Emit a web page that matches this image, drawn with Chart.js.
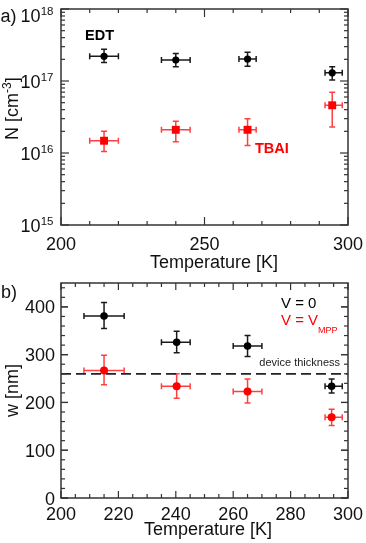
<!DOCTYPE html>
<html>
<head>
<meta charset="utf-8">
<script src="https://cdn.jsdelivr.net/npm/chart.js@4.4.1/dist/chart.umd.min.js"></script>
<style>
body { margin:0; background:#fff; }
#wrap { position:relative; width:366px; height:543px; overflow:hidden; }
canvas { position:absolute; left:0; }
#cA { top:0; }
#cB { top:270px; }
</style>
</head>
<body>
<div id="wrap">
<canvas id="cA" width="366" height="290"></canvas>
<canvas id="cB" width="366" height="273"></canvas>
</div>
<script>
// panel a) carrier density vs temperature
var tempA   = [215, 240, 265, 294.5];
var tempALo = [210, 235, 262, 292];
var tempAHi = [220, 245, 268, 298];
var edtN    = [2.2e17, 1.95e17, 2.02e17, 1.3e17];
var edtNLo  = [1.8e17, 1.58e17, 1.6e17, 1.03e17];
var edtNHi  = [2.75e17, 2.4e17, 2.5e17, 1.58e17];
var tbaiN   = [1.48e16, 2.1e16, 2.1e16, 4.6e16];
var tbaiNLo = [1.05e16, 1.43e16, 1.27e16, 2.3e16];
var tbaiNHi = [2.0e16, 2.75e16, 3.0e16, 7.0e16];
var xTicksA = [200, 250, 300];
var yExpA   = [15, 16, 17, 18];

// panel b) depletion width vs temperature
var tempB   = [215, 240.3, 265, 294.3];
var tempBLo = [208, 235, 260, 292];
var tempBHi = [222, 245, 270, 298];
var w0      = [381, 326, 318, 234];
var w0Lo    = [355, 304, 296, 220];
var w0Hi    = [409, 349, 340, 249];
var wMpp    = [267, 234, 223, 169];
var wMppLo  = [237, 209, 199, 152];
var wMppHi  = [299, 260, 249, 186];
var thickness = 260;
var xTicksB = [200, 220, 240, 260, 280, 300];
var yTicksB = [0, 100, 200, 300, 400];

var FONT = '"Liberation Sans", Arial, sans-serif';
function font(size, bold) { return (bold ? 'bold ' : '') + size + 'px ' + FONT; }

function pts(xs, ys) {
  return xs.map(function(x, i) { return {x: x, y: ys[i]}; });
}

function line(ctx, x0, y0, x1, y1) {
  ctx.beginPath(); ctx.moveTo(x0, y0); ctx.lineTo(x1, y1); ctx.stroke();
}

var errorBars = {
  id: 'errorBars',
  beforeDatasetsDraw: function(chart) {
    var ctx = chart.ctx, xs = chart.scales.x, ys = chart.scales.y;
    chart.data.datasets.forEach(function(ds) {
      if (!ds.tLo) return;
      ctx.save();
      ctx.strokeStyle = ds.errColor;
      ctx.lineWidth = 1.5;
      ds.data.forEach(function(p, i) {
        var x = xs.getPixelForValue(p.x), y = ys.getPixelForValue(p.y);
        var x0 = xs.getPixelForValue(ds.tLo[i]), x1 = xs.getPixelForValue(ds.tHi[i]);
        var y0 = ys.getPixelForValue(ds.yLo[i]), y1 = ys.getPixelForValue(ds.yHi[i]);
        ctx.beginPath();
        ctx.moveTo(x0, y); ctx.lineTo(x1, y);
        ctx.moveTo(x0, y - 3); ctx.lineTo(x0, y + 3);
        ctx.moveTo(x1, y - 3); ctx.lineTo(x1, y + 3);
        ctx.moveTo(x, y0); ctx.lineTo(x, y1);
        ctx.moveTo(x - 3, y0); ctx.lineTo(x + 3, y0);
        ctx.moveTo(x - 3, y1); ctx.lineTo(x + 3, y1);
        ctx.stroke();
      });
      ctx.restore();
    });
  }
};

function drawFrame(ctx, a) {
  ctx.lineWidth = 1.5;
  ctx.strokeStyle = '#333';
  ctx.strokeRect(a.left, a.top, a.right - a.left, a.bottom - a.top);
}

var axesA = {
  id: 'axesA',
  afterDraw: function(chart) {
    var ctx = chart.ctx, a = chart.chartArea, xs = chart.scales.x, ys = chart.scales.y;
    ctx.save();
    ctx.strokeStyle = '#333';
    ctx.lineWidth = 1.2;
    for (var t = 200; t <= 300; t += 10) {
      var len = (t % 50 === 0) ? 8 : 4;
      var px = xs.getPixelForValue(t);
      line(ctx, px, a.bottom, px, a.bottom - len);
      line(ctx, px, a.top, px, a.top + len);
    }
    yExpA.forEach(function(e) {
      var py = ys.getPixelForValue(Math.pow(10, e));
      line(ctx, a.left, py, a.left + 8, py);
      line(ctx, a.right, py, a.right - 8, py);
      if (e === 18) return;
      for (var m = 2; m <= 9; m++) {
        var pm = ys.getPixelForValue(m * Math.pow(10, e));
        line(ctx, a.left, pm, a.left + 4, pm);
        line(ctx, a.right, pm, a.right - 4, pm);
      }
    });
    drawFrame(ctx, a);

    ctx.fillStyle = '#111';
    ctx.textBaseline = 'alphabetic';
    ctx.font = font(18);
    ctx.textAlign = 'left';
    ctx.fillText('a)', 0.5, 22);

    // y tick labels 10^n
    yExpA.forEach(function(e) {
      var py = ys.getPixelForValue(Math.pow(10, e));
      var base = Math.max(py + 7, a.top + 13);
      ctx.textAlign = 'right';
      ctx.font = font(11.5);
      ctx.fillText(String(e), 53.5, base - 7);
      var sw = ctx.measureText(String(e)).width;
      ctx.font = font(18);
      ctx.fillText('10', 53.5 - sw - 0.3, base);
    });

    ctx.textAlign = 'center';
    ctx.font = font(18);
    xTicksA.forEach(function(t) {
      ctx.fillText(String(t), xs.getPixelForValue(t), 250);
    });
    ctx.fillText('Temperature [K]', 214, 268);

    // y title N [cm-3]
    ctx.save();
    ctx.translate(18, 140);
    ctx.rotate(-Math.PI / 2);
    ctx.textAlign = 'left';
    ctx.font = font(18);
    ctx.fillText('N [cm', 0, 0);
    var w1 = ctx.measureText('N [cm').width;
    ctx.font = font(12);
    ctx.fillText('-3', w1, -7);
    var w2 = ctx.measureText('-3').width;
    ctx.font = font(18);
    ctx.fillText(']', w1 + w2, 0);
    ctx.restore();

    ctx.textAlign = 'left';
    ctx.font = font(14.5, true);
    ctx.fillStyle = '#000';
    ctx.fillText('EDT', 85, 40);
    ctx.fillStyle = '#ff0000';
    ctx.fillText('TBAI', 255, 153);
    ctx.restore();
  }
};

var axesB = {
  id: 'axesB',
  afterDraw: function(chart) {
    var ctx = chart.ctx, a = chart.chartArea, xs = chart.scales.x, ys = chart.scales.y;
    ctx.save();
    ctx.strokeStyle = '#333';
    ctx.lineWidth = 1.2;
    for (var t = 200; t <= 300; t += 5) {
      var len = (t % 20 === 0) ? 7 : 4;
      var px = xs.getPixelForValue(t);
      line(ctx, px, a.bottom, px, a.bottom - len);
      line(ctx, px, a.top, px, a.top + len);
    }
    for (var v = 0; v <= 450; v += 20) {
      var l2 = (v % 100 === 0) ? 7 : 4;
      var py = ys.getPixelForValue(v);
      line(ctx, a.left, py, a.left + l2, py);
      line(ctx, a.right, py, a.right - l2, py);
    }
    yTicksB.forEach(function(v) {
      var py = ys.getPixelForValue(v);
      line(ctx, a.left, py, a.left + 7, py);
      line(ctx, a.right, py, a.right - 7, py);
    });
    drawFrame(ctx, a);

    ctx.fillStyle = '#111';
    ctx.textBaseline = 'alphabetic';
    ctx.font = font(18);
    ctx.textAlign = 'left';
    ctx.fillText('b)', 1, 28);

    ctx.textAlign = 'right';
    yTicksB.forEach(function(v) {
      ctx.fillText(String(v), 55, ys.getPixelForValue(v) + 6.5);
    });
    ctx.textAlign = 'center';
    xTicksB.forEach(function(t) {
      ctx.fillText(String(t), xs.getPixelForValue(t), 250);
    });
    ctx.fillText('Temperature [K]', 208, 265);

    ctx.save();
    ctx.translate(18, (a.top + a.bottom) / 2);
    ctx.rotate(-Math.PI / 2);
    ctx.textAlign = 'center';
    ctx.fillText('w [nm]', 0, 0);
    ctx.restore();

    ctx.textAlign = 'left';
    ctx.font = font(15);
    ctx.fillStyle = '#000';
    ctx.fillText('V = 0', 281, 38);
    ctx.fillStyle = '#ff0000';
    ctx.fillText('V = V', 281, 55);
    var wv = ctx.measureText('V = V').width;
    ctx.font = font(9);
    ctx.fillText('MPP', 281 + wv, 63);

    ctx.fillStyle = '#222';
    ctx.font = font(11);
    ctx.textAlign = 'right';
    ctx.fillText('device thickness', 340, 96);
    ctx.restore();
  }
};

new Chart(document.getElementById('cA'), {
  type: 'scatter',
  data: {
    datasets: [{
      label: 'TBAI',
      data: pts(tempA, tbaiN),
      tLo: tempALo, tHi: tempAHi, yLo: tbaiNLo, yHi: tbaiNHi,
      errColor: 'rgba(255,30,30,0.85)',
      pointStyle: 'rect', pointRadius: 5.6, borderWidth: 0,
      backgroundColor: '#ff0000', borderColor: '#ff0000'
    }, {
      label: 'EDT',
      data: pts(tempA, edtN),
      tLo: tempALo, tHi: tempAHi, yLo: edtNLo, yHi: edtNHi,
      errColor: '#1a1a1a',
      pointStyle: 'circle', pointRadius: 3.6, borderWidth: 0,
      backgroundColor: '#000', borderColor: '#000'
    }]
  },
  options: {
    responsive: false, animation: false, devicePixelRatio: 1,
    layout: { padding: { left: 61, right: 18, top: 9, bottom: 65 } },
    plugins: { legend: { display: false }, tooltip: { enabled: false } },
    scales: {
      x: { type: 'linear', min: 200, max: 300, display: false },
      y: { type: 'logarithmic', min: 1e15, max: 1e18, display: false }
    }
  },
  plugins: [errorBars, axesA]
});

new Chart(document.getElementById('cB'), {
  type: 'scatter',
  data: {
    datasets: [{
      label: 'device thickness',
      data: [{x: 200, y: thickness}, {x: 300, y: thickness}],
      showLine: true, pointRadius: 0,
      borderColor: '#222', borderWidth: 1.8, borderDash: [10, 5]
    }, {
      label: 'V = VMPP',
      data: pts(tempB, wMpp),
      tLo: tempBLo, tHi: tempBHi, yLo: wMppLo, yHi: wMppHi,
      errColor: 'rgba(255,30,30,0.85)',
      pointStyle: 'circle', pointRadius: 4, borderWidth: 0,
      backgroundColor: '#ff0000', borderColor: '#ff0000'
    }, {
      label: 'V = 0',
      data: pts(tempB, w0),
      tLo: tempBLo, tHi: tempBHi, yLo: w0Lo, yHi: w0Hi,
      errColor: '#1a1a1a',
      pointStyle: 'circle', pointRadius: 3.8, borderWidth: 0,
      backgroundColor: '#000', borderColor: '#000'
    }]
  },
  options: {
    responsive: false, animation: false, devicePixelRatio: 1,
    layout: { padding: { left: 61, right: 18, top: 13, bottom: 45 } },
    plugins: { legend: { display: false }, tooltip: { enabled: false } },
    scales: {
      x: { type: 'linear', min: 200, max: 300, display: false },
      y: { type: 'linear', min: 0, max: 450, display: false }
    }
  },
  plugins: [errorBars, axesB]
});
</script>
</body>
</html>
